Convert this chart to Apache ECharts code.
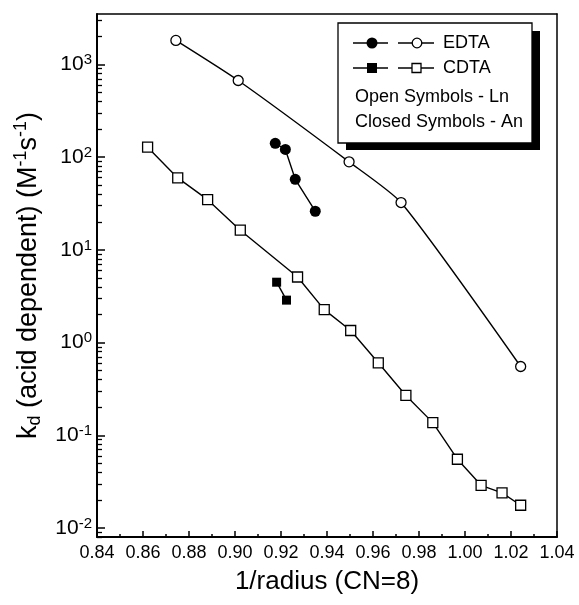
<!DOCTYPE html>
<html>
<head>
<meta charset="utf-8">
<script src="https://cdn.jsdelivr.net/npm/echarts@6/dist/echarts.min.js"></script>
<style>
  html, body { margin: 0; padding: 0; background: #fff; }
  #chart { width: 579px; height: 605px; }
</style>
</head>
<body>
<div id="chart"></div>
<script>
// EDTA - Ln (open circles)
var edtaLnX = [0.8743, 0.9014, 0.9496, 0.9722, 1.0242]
var edtaLnY = [1815, 671, 89, 32.4, 0.552]
// EDTA - An (closed circles)
var edtaAnX = [0.9175, 0.9219, 0.9262, 0.9349]
var edtaAnY = [141, 121, 57.7, 26.1]
// CDTA - Ln (open squares)
var cdtaLnX = [0.862, 0.8751, 0.8881, 0.9023, 0.9272, 0.9388, 0.9503, 0.9623, 0.9743, 0.986, 0.9967, 1.007, 1.0161, 1.0242]
var cdtaLnY = [128, 59.7, 34.8, 16.3, 5.1, 2.27, 1.35, 0.605, 0.269, 0.137, 0.0552, 0.0289, 0.0239, 0.0176]
// CDTA - An (closed squares)
var cdtaAnX = [0.9181, 0.9224]
var cdtaAnY = [4.48, 2.87]

var yMajor = [0.01, 0.1, 1, 10, 100, 1000]
var yMinor = [0.008, 0.009,
  0.02, 0.03, 0.04, 0.05, 0.06, 0.07, 0.08, 0.09,
  0.2, 0.3, 0.4, 0.5, 0.6, 0.7, 0.8, 0.9,
  2, 3, 4, 5, 6, 7, 8, 9,
  20, 30, 40, 50, 60, 70, 80, 90,
  200, 300, 400, 500, 600, 700, 800, 900,
  2000, 3000]

var FONT = "'Liberation Sans', Arial, sans-serif"

function pairs(xs, ys) {
  return xs.map(function (x, i) { return [x, ys[i]] })
}

var myChart = echarts.init(document.getElementById('chart'))

var black = '#000'
var legendRows = [43, 68]

// plain axis used only to close the frame (top / right)
var frameAxis = {
  axisLine: { show: true, onZero: false, lineStyle: { color: black, width: 1.5 } },
  axisTick: { show: false },
  axisLabel: { show: false },
  splitLine: { show: false }
}

myChart.setOption({
  backgroundColor: '#fff',
  animation: false,
  textStyle: { fontFamily: FONT },
  grid: { left: 97, right: 22, top: 14, bottom: 68 },
  xAxis: [
    {
      type: 'value',
      min: 0.84, max: 1.04, interval: 0.02,
      name: '1/radius (CN=8)',
      nameLocation: 'middle',
      nameGap: 32,
      nameTextStyle: { color: black, fontSize: 26, fontFamily: FONT },
      axisLine: { show: true, onZero: false, lineStyle: { color: black, width: 2 } },
      axisTick: { show: true, inside: true, length: 6, lineStyle: { color: black, width: 1.5 } },
      minorTick: { show: true, splitNumber: 2, length: 3, lineStyle: { color: black, width: 1.5 } },
      splitLine: { show: false },
      axisLabel: {
        color: black, fontSize: 18, margin: 7, fontFamily: FONT,
        formatter: function (v) { return v.toFixed(2) }
      }
    },
    Object.assign({ type: 'value', min: 0.84, max: 1.04, position: 'top' }, frameAxis)
  ],
  yAxis: [
    {
      type: 'log', logBase: 10,
      min: 0.008, max: 3500,
      name: '{t|k}{sub|d}{t| (acid dependent) (M}{sup|-1}{t|s}{sup|-1}{t|)}',
      nameLocation: 'middle',
      nameRotate: 90,
      nameGap: 46,
      nameTextStyle: {
        color: black, fontFamily: FONT,
        rich: {
          t: { fontSize: 27, lineHeight: 32, color: black, fontFamily: FONT },
          sub: { fontSize: 18, lineHeight: 16, verticalAlign: 'bottom', color: black, fontFamily: FONT },
          sup: { fontSize: 18, lineHeight: 16, verticalAlign: 'top', color: black, fontFamily: FONT }
        }
      },
      axisLine: { show: true, onZero: false, lineStyle: { color: black, width: 2 } },
      axisTick: { show: true, inside: true, length: 8, customValues: yMajor, lineStyle: { color: black, width: 1.5 } },
      splitLine: { show: false },
      axisLabel: {
        show: true,
        customValues: yMajor,
        margin: 5,
        color: black,
        formatter: function (v) {
          var e = Math.round(Math.log10(v))
          return '{b|10}{s|' + e + '}'
        },
        rich: {
          b: { fontSize: 21, lineHeight: 24, color: black, fontFamily: FONT },
          s: { fontSize: 15, lineHeight: 13, verticalAlign: 'top', color: black, fontFamily: FONT }
        }
      }
    },
    {
      // minor ticks of the log axis (2..9 in each decade)
      type: 'log', logBase: 10,
      min: 0.008, max: 3500,
      position: 'left',
      axisLine: { show: false },
      axisTick: { show: true, inside: true, length: 5, customValues: yMinor, lineStyle: { color: black, width: 1.3 } },
      axisLabel: { show: false },
      splitLine: { show: false }
    },
    Object.assign({ type: 'log', min: 0.008, max: 3500, position: 'right' }, frameAxis)
  ],
  series: [
    {
      name: 'EDTA Ln',
      type: 'line',
      data: pairs(edtaLnX, edtaLnY),
      smooth: 0.2,
      symbol: 'circle',
      symbolSize: 10,
      lineStyle: { color: black, width: 1.4 },
      itemStyle: { color: '#fff', borderColor: black, borderWidth: 1.3 },
      z: 3
    },
    {
      name: 'EDTA An',
      type: 'line',
      data: pairs(edtaAnX, edtaAnY),
      symbol: 'circle',
      symbolSize: 11,
      lineStyle: { color: black, width: 1.4 },
      itemStyle: { color: black, borderColor: black, borderWidth: 0 },
      z: 3
    },
    {
      name: 'CDTA Ln',
      type: 'line',
      data: pairs(cdtaLnX, cdtaLnY),
      symbol: 'rect',
      symbolSize: 10,
      lineStyle: { color: black, width: 1.4 },
      itemStyle: { color: '#fff', borderColor: black, borderWidth: 1.3 },
      z: 3
    },
    {
      name: 'CDTA An',
      type: 'line',
      data: pairs(cdtaAnX, cdtaAnY),
      symbol: 'rect',
      symbolSize: 9,
      lineStyle: { color: black, width: 1.4 },
      itemStyle: { color: black, borderWidth: 0 },
      z: 3
    }
  ],
  graphic: [
    {
      type: 'group',
      z: 100,
      children: [
        { type: 'rect', shape: { x: 346, y: 31, width: 194, height: 119 }, style: { fill: black } },
        { type: 'rect', shape: { x: 338, y: 23, width: 194, height: 120 }, style: { fill: '#fff', stroke: black, lineWidth: 1.3 } },
        // row 1: EDTA
        { type: 'line', shape: { x1: 353, y1: legendRows[0], x2: 388, y2: legendRows[0] }, style: { stroke: black, lineWidth: 1.6 } },
        { type: 'circle', shape: { cx: 372, cy: legendRows[0], r: 5.5 }, style: { fill: black } },
        { type: 'line', shape: { x1: 398, y1: legendRows[0], x2: 434, y2: legendRows[0] }, style: { stroke: black, lineWidth: 1.6 } },
        { type: 'circle', shape: { cx: 417, cy: legendRows[0], r: 4.8 }, style: { fill: '#fff', stroke: black, lineWidth: 1.3 } },
        { type: 'text', x: 443, y: legendRows[0], style: { text: 'EDTA', fill: black, font: '18px ' + FONT, verticalAlign: 'middle' } },
        // row 2: CDTA
        { type: 'line', shape: { x1: 353, y1: legendRows[1], x2: 388, y2: legendRows[1] }, style: { stroke: black, lineWidth: 1.6 } },
        { type: 'rect', shape: { x: 367, y: legendRows[1] - 5, width: 10, height: 10 }, style: { fill: black } },
        { type: 'line', shape: { x1: 398, y1: legendRows[1], x2: 434, y2: legendRows[1] }, style: { stroke: black, lineWidth: 1.6 } },
        { type: 'rect', shape: { x: 412, y: legendRows[1] - 4.5, width: 9, height: 9 }, style: { fill: '#fff', stroke: black, lineWidth: 1.3 } },
        { type: 'text', x: 443, y: legendRows[1], style: { text: 'CDTA', fill: black, font: '18px ' + FONT, verticalAlign: 'middle' } },
        // notes
        { type: 'text', x: 355, y: 97, style: { text: 'Open Symbols - Ln', fill: black, font: '18px ' + FONT, verticalAlign: 'middle' } },
        { type: 'text', x: 355, y: 122, style: { text: 'Closed Symbols - An', fill: black, font: '18px ' + FONT, verticalAlign: 'middle' } }
      ]
    }
  ]
})
</script>
</body>
</html>
